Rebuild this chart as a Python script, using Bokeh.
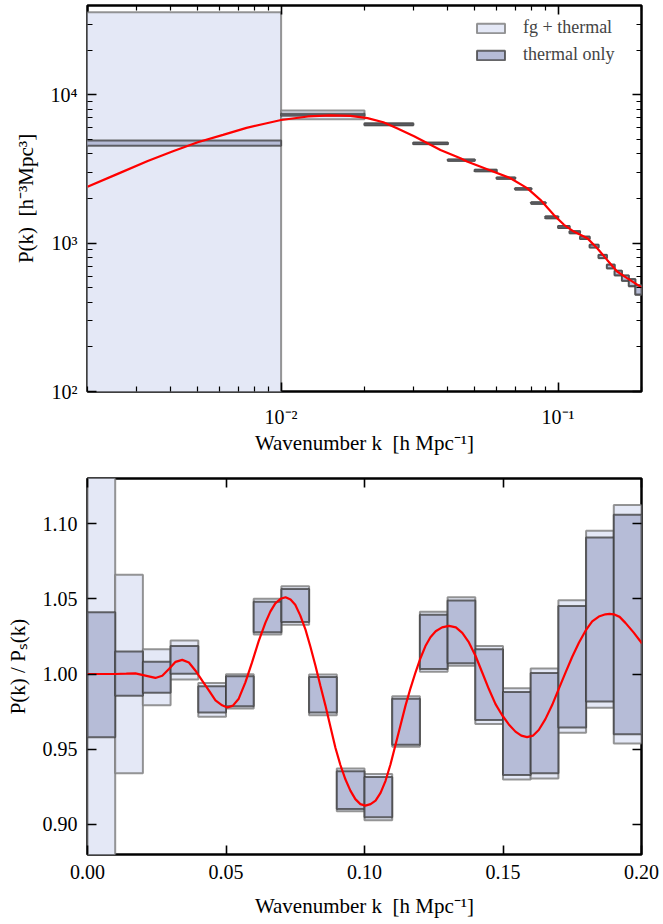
import numpy as np
from bokeh.plotting import figure
from bokeh.models import (Range1d, LinearAxis, LogAxis, FixedTicker, PrintfTickFormatter,
                          Legend, LegendItem, ColumnDataSource, CustomJSTickFormatter)
from bokeh.layouts import column
from bokeh.embed import file_html
from bokeh.resources import INLINE

# ---------------- data ----------------
bin_edges = [0.00, 0.01, 0.02, 0.03, 0.04, 0.05, 0.06, 0.07, 0.08, 0.09, 0.10,
             0.11, 0.12, 0.13, 0.14, 0.15, 0.16, 0.17, 0.18, 0.19, 0.20]
# smooth (no-wiggle) power at each bin, h^-3 Mpc^3
ps_bin = [4735, 7340, 6340, 4660, 3690, 3125, 2640, 2220, 1890, 1620,
          1400, 1225, 1064, 929, 819, 725, 650, 578, 523, 469]
# ratio P/Ps box limits: fg + thermal
fg_lo = [0.01, 0.934, 0.9792, 0.9963, 0.9716, 0.977, 1.0263, 1.0328, 0.9726, 0.9088,
         0.9028, 0.9516, 1.0015, 1.0055, 0.9667, 0.9298, 0.9306, 0.961, 0.9775, 0.9538]
fg_hi = [7.6, 1.066, 1.0164, 1.0223, 0.9941, 0.9998, 1.0501, 1.0584, 0.9996, 0.9372,
         0.9335, 0.9853, 1.0414, 1.051, 1.0186, 0.9906, 1.0037, 1.049, 1.0952, 1.1123]
# thermal only
th_lo = [0.958, 0.9856, 0.9875, 1.0002, 0.9744, 0.9786, 1.0278, 1.0346, 0.9744, 0.9103,
         0.9048, 0.953, 1.0033, 1.0072, 0.9694, 0.9328, 0.9341, 0.9645, 0.9818, 0.96]
th_hi = [1.041, 1.0149, 1.0081, 1.0186, 0.9919, 0.9985, 1.0481, 1.0565, 0.998, 0.9354,
         0.9315, 0.9836, 1.0394, 1.0488, 1.0164, 0.988, 1.0007, 1.0453, 1.0908, 1.1059]

# model power spectrum (red curve, top)
curve_k = [0.002, 0.00257, 0.0033, 0.00407, 0.005, 0.00617, 0.0075, 0.00871, 0.01, 0.0125,
           0.0151, 0.0178, 0.0205, 0.0234, 0.0262, 0.0302, 0.0346, 0.0376, 0.0444, 0.0469,
           0.057, 0.0673, 0.0773, 0.0863, 0.0964, 0.105, 0.114, 0.1274, 0.1384, 0.1503,
           0.1633, 0.1774, 0.198, 0.2]
curve_pk = [2400, 2931, 3580, 4169, 4786, 5370, 5984, 6383, 6761, 7145,
            7278, 7211, 6966, 6531, 5957, 5248, 4603, 4250, 3740, 3550,
            3090, 2740, 2350, 1960, 1552, 1329, 1197, 1081, 925, 771,
            644, 581, 509, 500]

# model ratio P/Ps (red curve, bottom)
ratio_k = [0.000, 0.005, 0.010, 0.014, 0.0173, 0.0209, 0.0245, 0.027, 0.0294, 0.0318,
           0.0342, 0.0366, 0.039, 0.0414, 0.0438, 0.0462, 0.0486, 0.0505, 0.0525, 0.0546,
           0.057, 0.0594, 0.0618, 0.0642, 0.066, 0.0678, 0.0697, 0.0715, 0.0733, 0.075,
           0.0768, 0.0787, 0.0805, 0.0823, 0.0841, 0.0859, 0.0877, 0.0895, 0.0913, 0.0931,
           0.0949, 0.0967, 0.0985, 0.1003, 0.1022, 0.104, 0.1058, 0.1076, 0.1094, 0.1112,
           0.113, 0.1148, 0.1166, 0.1184, 0.1202, 0.122, 0.1238, 0.1257, 0.128, 0.1305,
           0.133, 0.1353, 0.1377, 0.1401, 0.1425, 0.1449, 0.1473, 0.1497, 0.1521, 0.1545,
           0.1566, 0.1587, 0.1608, 0.1629, 0.1653, 0.1677, 0.1701, 0.1726, 0.175, 0.1774,
           0.1798, 0.1822, 0.1846, 0.187, 0.1885, 0.19, 0.1921, 0.1942, 0.1972, 0.2002]
ratio_val = [1.000, 1.000, 1.000, 1.0002, 1.0004, 0.9989, 0.9974, 0.9989, 1.0033, 1.0081,
             1.0094, 1.0077, 1.0022, 0.9956, 0.9891, 0.9825, 0.9792, 0.9777, 0.9790, 0.9836,
             0.9945, 1.0077, 1.0219, 1.034, 1.0415, 1.047, 1.050, 1.051, 1.0495, 1.046,
             1.039, 1.0295, 1.018, 1.0055, 0.992, 0.979, 0.965, 0.951, 0.9395, 0.930,
             0.9225, 0.9168, 0.9135, 0.9125, 0.9135, 0.9158, 0.921, 0.929, 0.940, 0.953,
             0.966, 0.979, 0.9905, 1.001, 1.0105, 1.0186, 1.0245, 1.0284, 1.031, 1.032,
             1.031, 1.0274, 1.021, 1.012, 1.001, 0.990, 0.980, 0.9726, 0.9665, 0.9617,
             0.959, 0.958, 0.959, 0.9628, 0.970, 0.9792, 0.990, 1.0011, 1.0115, 1.0208,
             1.0288, 1.035, 1.0382, 1.0397, 1.040, 1.0397, 1.038, 1.034, 1.0275, 1.0203]

# ---------------- style ----------------
FONT = "Liberation Serif"
FG_FILL = "#e4e8f6"
TH_FILL = "#b6bcd7"
FG_EDGE = "#7a7a7a"
TH_EDGE = "#3a3a3a"
TICK_FS = "20px"
LABEL_FS = "21px"
SP = "\u00a0\u00a0"

left = np.array(bin_edges[:-1])
right = np.array(bin_edges[1:])
ps = np.array(ps_bin)

POW_FMT = CustomJSTickFormatter(code="""
const sup = {'-':'\u207b','0':'\u2070','1':'\u00b9','2':'\u00b2','3':'\u00b3','4':'\u2074',
             '5':'\u2075','6':'\u2076','7':'\u2077','8':'\u2078','9':'\u2079'};
const e = Math.round(Math.log10(tick));
return '10' + String(e).split('').map(c => sup[c]).join('');
""")


def style_axis(ax, labels=True, minor=True):
    ax.axis_line_color = None
    ax.major_tick_in = 9
    ax.major_tick_out = 0
    ax.major_tick_line_width = 1.6
    ax.major_tick_line_color = "black"
    if minor:
        ax.minor_tick_in = 5
        ax.minor_tick_out = 0
        ax.minor_tick_line_width = 1.2
        ax.minor_tick_line_color = "black"
    else:
        ax.minor_tick_line_color = None
    if labels:
        ax.major_label_text_font = FONT
        ax.major_label_text_font_size = TICK_FS
        ax.major_label_text_color = "black"
        ax.axis_label_text_font = FONT
        ax.axis_label_text_font_size = LABEL_FS
        ax.axis_label_text_font_style = "normal"
        ax.axis_label_text_color = "black"
    else:
        ax.major_label_text_font_size = "1px"
        ax.major_label_text_alpha = 0
        ax.major_label_standoff = 0


# ---------------- top figure ----------------
p1 = figure(width=663, height=467, x_axis_type="log", y_axis_type="log",
            x_range=Range1d(0.002, 0.2), y_range=Range1d(100, 4e4),
            output_backend="svg", toolbar_location=None,
            min_border_left=87, min_border_right=22, min_border_top=5, min_border_bottom=76)
p1.grid.visible = False
p1.outline_line_color = "black"
p1.outline_line_width = 2.5

top_left = left.copy()
top_left[0] = 1e-4
src_top = ColumnDataSource(dict(left=top_left, right=right,
                                fg_b=ps * np.array(fg_lo), fg_t=ps * np.array(fg_hi),
                                th_b=ps * np.array(th_lo), th_t=ps * np.array(th_hi)))
r_fg1 = p1.quad(left="left", right="right", bottom="fg_b", top="fg_t", source=src_top,
                fill_color=FG_FILL, line_color=FG_EDGE, line_width=2, line_alpha=0.8)
r_th1 = p1.quad(left="left", right="right", bottom="th_b", top="th_t", source=src_top,
                fill_color=TH_FILL, line_color=TH_EDGE, line_width=2, line_alpha=0.75)
p1.line(curve_k, curve_pk, line_color="red", line_width=2.2)

x_major = [1e-3, 1e-2, 1e-1, 1.0]
x_minor = [m * d for d in [1e-3, 1e-2, 1e-1] for m in range(2, 10)]
y_major = [1e2, 1e3, 1e4, 1e5]
y_minor = [m * d for d in [1e2, 1e3, 1e4] for m in range(2, 10)]

for ax in p1.xaxis:
    ax.ticker = FixedTicker(ticks=x_major, minor_ticks=x_minor)
    ax.formatter = POW_FMT
    style_axis(ax)
    ax.axis_label = "Wavenumber k" + SP + "[h Mpc⁻¹]"
    ax.major_label_standoff = 14
    ax.axis_label_standoff = 0
for ax in p1.yaxis:
    ax.ticker = FixedTicker(ticks=y_major, minor_ticks=y_minor)
    ax.formatter = POW_FMT
    style_axis(ax)
    ax.axis_label = "P(k)" + SP + "[h⁻³Mpc³]"
    ax.major_label_standoff = 10
    ax.axis_label_standoff = 10

ax_top = LogAxis(ticker=FixedTicker(ticks=x_major, minor_ticks=x_minor), formatter=POW_FMT)
style_axis(ax_top, labels=False)
p1.add_layout(ax_top, "above")
ax_right = LogAxis(ticker=FixedTicker(ticks=y_major, minor_ticks=y_minor), formatter=POW_FMT)
style_axis(ax_right, labels=False)
p1.add_layout(ax_right, "right")

legend = Legend(items=[LegendItem(label="fg + thermal", renderers=[r_fg1]),
                       LegendItem(label="thermal only", renderers=[r_th1])],
                location=(386, 326), border_line_color=None, background_fill_alpha=0,
                label_text_font=FONT, label_text_font_size="18px",
                glyph_width=35, glyph_height=12, label_height=20, spacing=6,
                label_standoff=15, margin=0, padding=8)
p1.add_layout(legend)

# ---------------- bottom figure ----------------
p2 = figure(width=663, height=453,
            x_range=Range1d(0.0, 0.2), y_range=Range1d(0.88, 1.13),
            output_backend="svg", toolbar_location=None,
            min_border_left=87, min_border_right=22, min_border_top=11, min_border_bottom=60)
p2.grid.visible = False
p2.outline_line_color = "black"
p2.outline_line_width = 2.5

src_bot = ColumnDataSource(dict(left=left, right=right, fg_b=fg_lo, fg_t=fg_hi,
                                th_b=th_lo, th_t=th_hi))
p2.quad(left="left", right="right", bottom="fg_b", top="fg_t", source=src_bot,
        fill_color=FG_FILL, line_color=FG_EDGE, line_width=2, line_alpha=0.8)
p2.quad(left="left", right="right", bottom="th_b", top="th_t", source=src_bot,
        fill_color=TH_FILL, line_color=TH_EDGE, line_width=2, line_alpha=0.75)
p2.line(ratio_k, ratio_val, line_color="red", line_width=2.2)

bx_major = [0.0, 0.05, 0.10, 0.15, 0.20]
by_major = [0.90, 0.95, 1.00, 1.05, 1.10]
for ax in p2.xaxis:
    ax.ticker = FixedTicker(ticks=bx_major)
    ax.formatter = PrintfTickFormatter(format="%.2f")
    style_axis(ax, minor=False)
    ax.axis_label = "Wavenumber k" + SP + "[h Mpc⁻¹]"
    ax.major_label_standoff = 10
    ax.axis_label_standoff = 12
for ax in p2.yaxis:
    ax.ticker = FixedTicker(ticks=by_major)
    ax.formatter = PrintfTickFormatter(format="%.2f")
    style_axis(ax, minor=False)
    ax.axis_label = "P(k) / Pₛ(k)"
    ax.major_label_standoff = 10
    ax.axis_label_standoff = 10

ax_top2 = LinearAxis(ticker=FixedTicker(ticks=bx_major), formatter=PrintfTickFormatter(format="%.2f"))
style_axis(ax_top2, labels=False, minor=False)
p2.add_layout(ax_top2, "above")
ax_right2 = LinearAxis(ticker=FixedTicker(ticks=by_major), formatter=PrintfTickFormatter(format="%.2f"))
style_axis(ax_right2, labels=False, minor=False)
p2.add_layout(ax_right2, "right")

layout = column(p1, p2, spacing=0)
open("out.html", "w").write(file_html(layout, INLINE))
